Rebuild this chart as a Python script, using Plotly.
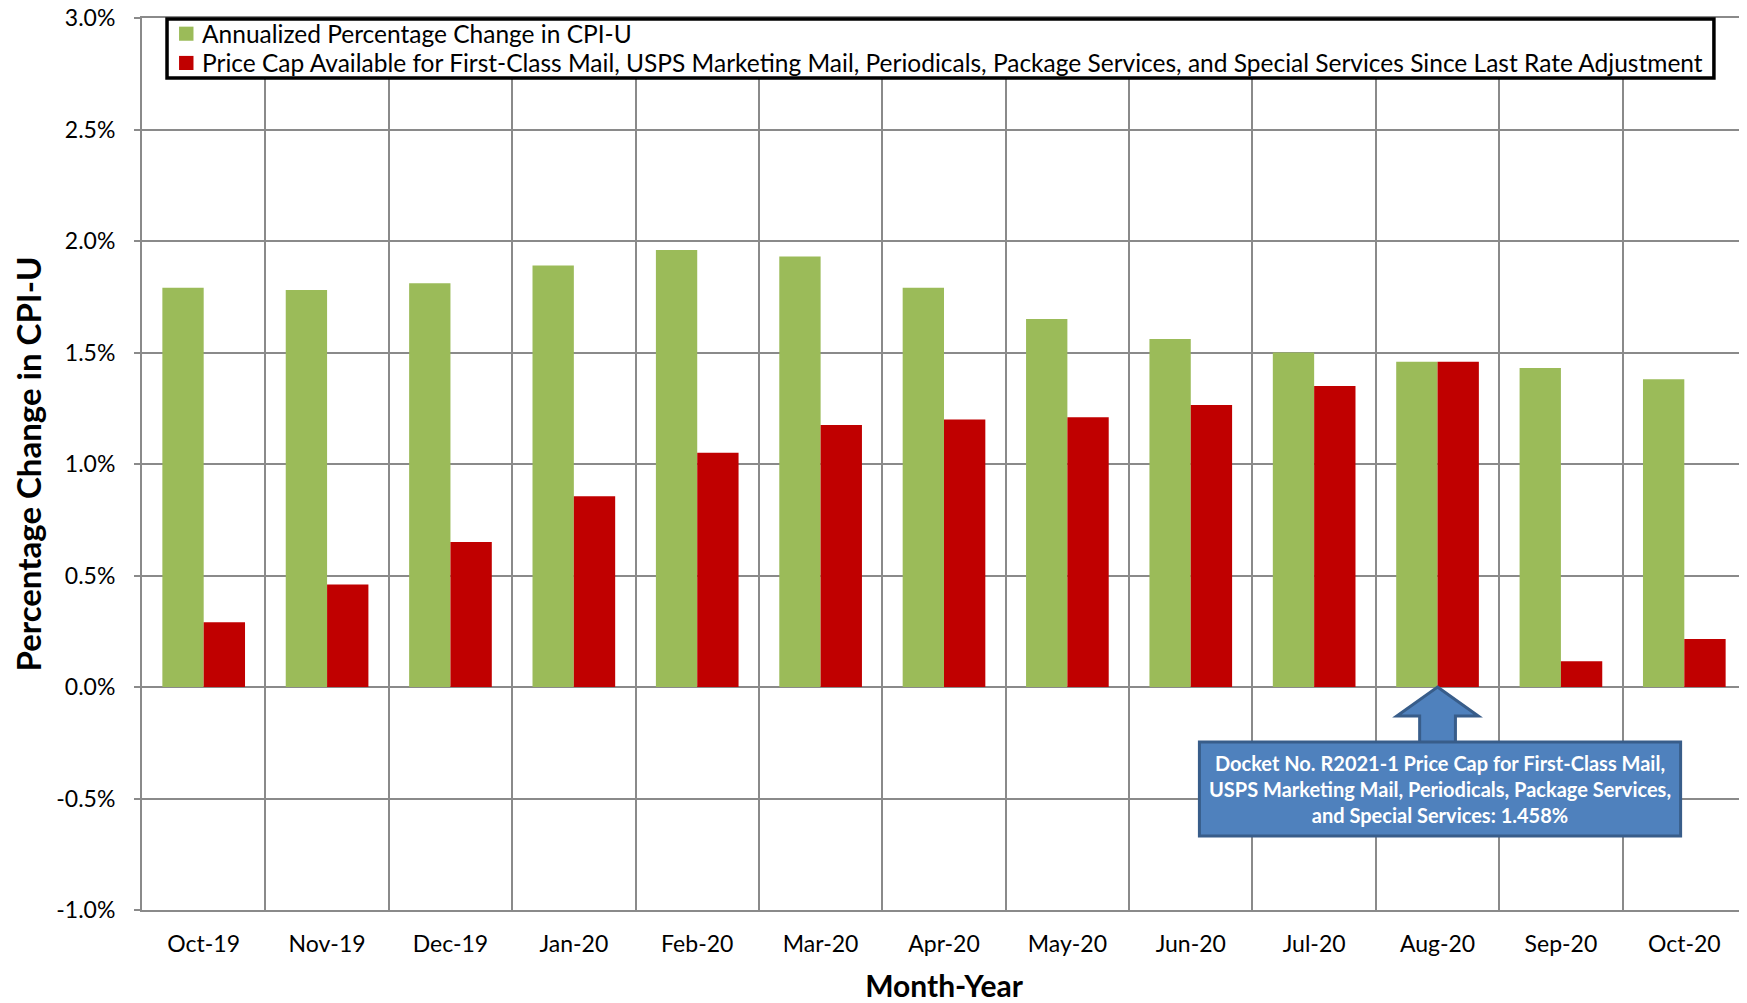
import plotly.graph_objects as go

months = ["Oct-19", "Nov-19", "Dec-19", "Jan-20", "Feb-20", "Mar-20", "Apr-20",
          "May-20", "Jun-20", "Jul-20", "Aug-20", "Sep-20", "Oct-20"]
cpi_change = [1.79, 1.78, 1.81, 1.89, 1.96, 1.93, 1.79, 1.65, 1.56, 1.50, 1.458, 1.43, 1.38]
price_cap = [0.29, 0.46, 0.65, 0.855, 1.05, 1.175, 1.20, 1.21, 1.265, 1.35, 1.458, 0.115, 0.215]
y_ticks = [-1.0, -0.5, 0.0, 0.5, 1.0, 1.5, 2.0, 2.5, 3.0]

name_cpi = "Annualized Percentage Change in CPI-U"
name_cap = ("Price Cap Available for First-Class Mail, USPS Marketing Mail, Periodicals, "
            "Package Services, and Special Services Since Last Rate Adjustment")
note = ("Docket No. R2021-1 Price Cap for First-Class Mail,<br>"
        "USPS Marketing Mail, Periodicals, Package Services,<br>"
        "and Special Services: 1.458%")

FONT = "Lato, 'Open Sans', sans-serif"
GRID = "#8a8a8a"
GREEN, RED = "#9BBB59", "#C00000"

x_idx = list(range(len(months)))

fig = go.Figure()
fig.add_trace(go.Bar(x=x_idx, y=cpi_change, name=name_cpi, marker_color=GREEN,
                     marker_line_width=0, showlegend=False))
fig.add_trace(go.Bar(x=x_idx, y=price_cap, name=name_cap, marker_color=RED,
                     marker_line_width=0, showlegend=False))

# Callout arrow pointing at Aug-20 category
ax = months.index("Aug-20")
head_hw, shaft_hw = 0.33, 0.145
y_tip, y_base, y_box_top = 0.0, -0.13, -0.25
path = (f"M {ax},{y_tip} L {ax+head_hw},{y_base} L {ax+shaft_hw},{y_base} "
        f"L {ax+shaft_hw},{y_box_top} L {ax-shaft_hw},{y_box_top} L {ax-shaft_hw},{y_base} "
        f"L {ax-head_hw},{y_base} Z")
fig.add_shape(type="path", path=path, xref="x", yref="y",
              fillcolor="#4F81BD", line=dict(color="#385D8A", width=3), layer="above")
fig.add_shape(type="rect", xref="x", yref="y", x0=8.07, x1=11.97, y0=-0.668, y1=-0.247,
              fillcolor="#4F81BD", line=dict(color="#385D8A", width=3), layer="above")
fig.add_annotation(x=(8.07 + 11.97) / 2, y=(-0.668 - 0.247) / 2, xref="x", yref="y",
                   text=note, showarrow=False, align="center",
                   font=dict(family=FONT, size=20, color="white", weight="bold"))

# Legend box drawn in the top-left of the plot area (Excel style, compact rows)
fig.add_shape(type="rect", xref="paper", yref="paper", x0=0.0156, x1=0.980,
              y0=0.9327, y1=0.999, fillcolor="white",
              line=dict(color="black", width=3.5), layer="above")
legend_rows = [(name_cpi, GREEN, 0.9824), (name_cap, RED, 0.9496)]
for label, color, yc in legend_rows:
    fig.add_shape(type="rect", xref="paper", yref="paper", x0=0.0231, x1=0.0321,
                  y0=yc - 0.0079, y1=yc + 0.0079, fillcolor=color,
                  line=dict(width=0), layer="above")
    fig.add_annotation(x=0.0362, y=yc, xref="paper", yref="paper", text=label,
                       showarrow=False, xanchor="left", yanchor="middle",
                       font=dict(family=FONT, size=24.5, color="black"))

# page body has an 8px default margin, so the figure is 8px smaller and margins shifted
fig.update_layout(
    width=1739, height=995,
    margin=dict(l=134, r=1, t=10, b=93),
    paper_bgcolor="white", plot_bgcolor="white",
    barmode="group", bargap=0.33, bargroupgap=0,
    font=dict(family=FONT, size=23, color="black"),
    showlegend=False,
    xaxis=dict(
        automargin=False,
        range=[-0.5, len(months) - 0.5],
        tickmode="array", tickvals=x_idx, ticktext=months,
        showgrid=False, ticks="", showline=True, mirror=True,
        linecolor=GRID, linewidth=2,
        tickfont=dict(family=FONT, size=23), ticklabelstandoff=12,
        minor=dict(tickmode="linear", tick0=-0.5, dtick=1, showgrid=True,
                   gridcolor=GRID, gridwidth=2, ticks=""),
        title=dict(text="<b>Month-Year</b>", font=dict(family=FONT, size=30), standoff=22),
    ),
    yaxis=dict(
        automargin=False,
        range=[-1.0, 3.0], tickmode="array", tickvals=y_ticks,
        ticktext=[f"{v:.1f}%" for v in y_ticks],
        ticklabeloverflow="allow",
        showgrid=True, gridcolor=GRID, gridwidth=2,
        zeroline=True, zerolinecolor=GRID, zerolinewidth=2,
        showline=True, linecolor=GRID, linewidth=2,
        ticks="outside", ticklen=6, tickcolor=GRID, tickwidth=2,
        tickfont=dict(family=FONT, size=23), ticklabelstandoff=14,
        title=dict(text="<b>Percentage Change in CPI-U</b>",
                   font=dict(family=FONT, size=33), standoff=9),
    ),
)

fig.write_html("out.html")
